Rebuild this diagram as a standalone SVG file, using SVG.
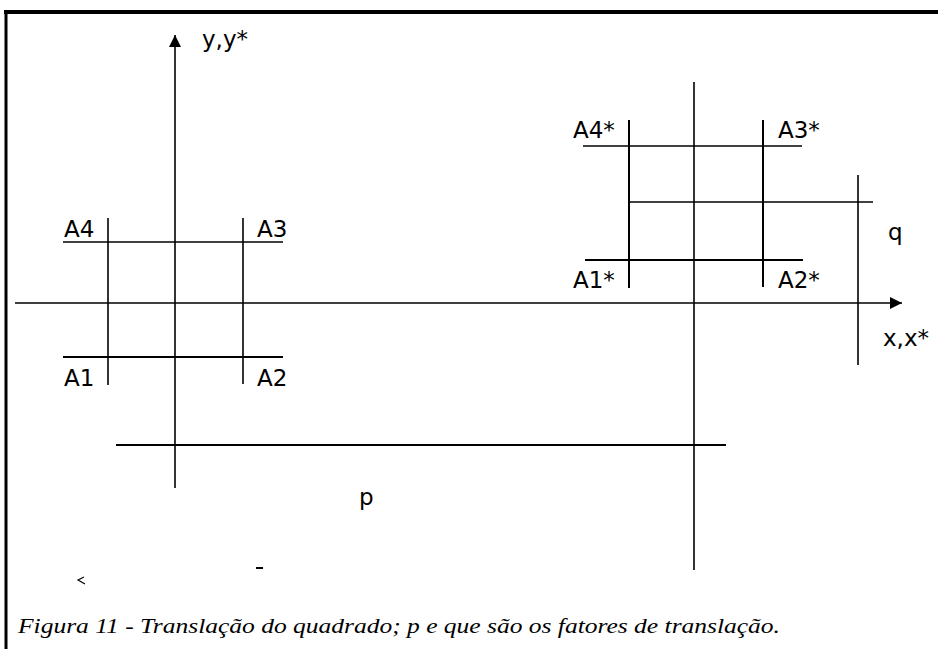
<svg xmlns="http://www.w3.org/2000/svg" width="938" height="649" viewBox="0 0 938 649">
  <style>
    .ln { stroke: #000; stroke-width: 1.6; fill: none; }
    .bd { stroke: #000; stroke-width: 2; fill: none; }
    .lbl { font-family: "DejaVu Sans", "Liberation Sans", sans-serif; font-size: 23px; fill: #000; }
    .cap { font-family: "Liberation Serif", serif; font-style: italic; font-size: 22px; fill: #000; }
  </style>
  <defs>
    <marker id="arr" viewBox="0 0 12 12" refX="12" refY="6" markerWidth="12" markerHeight="12" markerUnits="userSpaceOnUse" orient="auto">
      <path d="M0,0 L12,6 L0,12 Z" fill="#000"/>
    </marker>
  </defs>
  <rect width="938" height="649" fill="#fff"/>
  <!-- frame -->
  <g id="frame">
    <line x1="4" y1="12" x2="938" y2="12" stroke="#000" stroke-width="4"/>
    <line x1="6" y1="11" x2="6" y2="649" stroke="#000" stroke-width="3"/>
  </g>
  <!-- axes -->
  <g id="axes">
    <line class="ln" x1="175" y1="488" x2="175" y2="35" marker-end="url(#arr)"/>
    <line class="ln" x1="15" y1="303" x2="902" y2="303" marker-end="url(#arr)"/>
    <text class="lbl" x="202" y="47">y,y*</text>
    <text class="lbl" x="883" y="346">x,x*</text>
  </g>
  <!-- original square -->
  <g id="square-A">
    <line class="ln" x1="108" y1="218" x2="108" y2="385"/>
    <line class="ln" x1="243" y1="218" x2="243" y2="384"/>
    <line class="ln" x1="63" y1="242" x2="283" y2="242"/>
    <line class="bd" x1="63" y1="357" x2="283" y2="357"/>
    <text class="lbl" x="64" y="237">A4</text>
    <text class="lbl" x="257" y="237">A3</text>
    <text class="lbl" x="64" y="386">A1</text>
    <text class="lbl" x="257" y="386">A2</text>
  </g>
  <!-- translated square -->
  <g id="square-B">
    <line class="ln" x1="694" y1="82" x2="694" y2="570"/>
    <line class="bd" x1="629" y1="120" x2="629" y2="288"/>
    <line class="bd" x1="763" y1="120" x2="763" y2="287"/>
    <line class="ln" x1="583" y1="146" x2="802" y2="146"/>
    <line class="bd" x1="585" y1="260" x2="803" y2="260"/>
    <text class="lbl" x="573" y="138">A4*</text>
    <text class="lbl" x="778" y="138">A3*</text>
    <text class="lbl" x="573" y="288">A1*</text>
    <text class="lbl" x="778" y="288">A2*</text>
  </g>
  <!-- translation factors -->
  <g id="factor-q">
    <line class="ln" x1="629" y1="202" x2="873" y2="202"/>
    <line class="ln" x1="858" y1="175" x2="858" y2="365"/>
    <text class="lbl" x="888" y="240">q</text>
  </g>
  <g id="factor-p">
    <line class="bd" x1="116" y1="445" x2="726" y2="445"/>
    <text class="lbl" x="359" y="505">p</text>
  </g>
  <!-- stray marks -->
  <g id="marks">
    <line x1="256" y1="568" x2="263" y2="568" stroke="#000" stroke-width="2"/>
    <path d="M84,577 L78,580 L85,584" stroke="#000" stroke-width="1.2" fill="none"/>
  </g>
  <!-- caption -->
  <text class="cap" x="18" y="633" textLength="762" lengthAdjust="spacingAndGlyphs">Figura 11 - Translação do quadrado; p e que são os fatores de translação.</text>
</svg>
